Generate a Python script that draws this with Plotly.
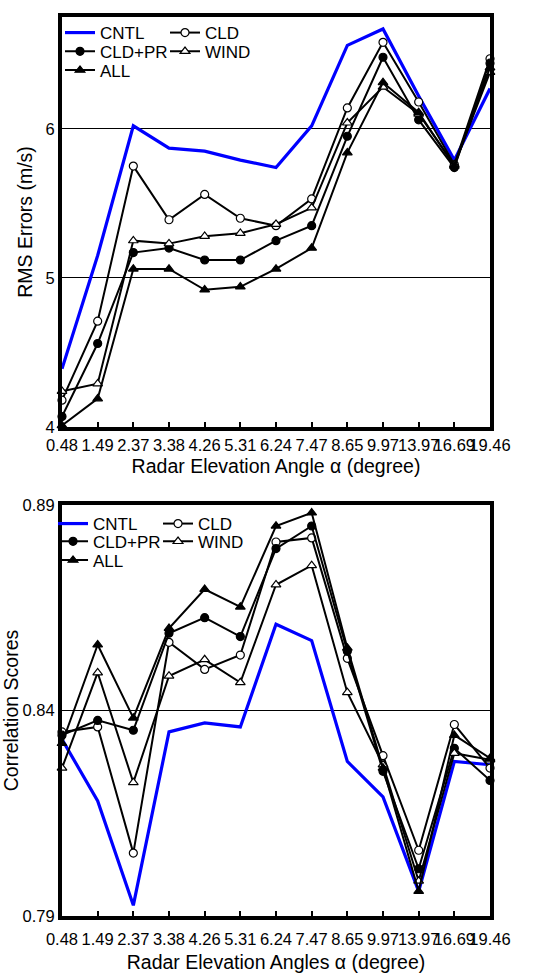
import plotly.graph_objects as go

angles = ["0.48", "1.49", "2.37", "3.38", "4.26", "5.31", "6.24", "7.47",
          "8.65", "9.97", "13.97", "16.69", "19.46"]
xi = list(range(len(angles)))

# RMS errors (m/s)
rms_cntl = [4.39, 5.15, 6.02, 5.87, 5.85, 5.79, 5.74, 6.02, 6.56, 6.67, 6.22, 5.79, 6.27]
rms_cld = [4.18, 4.71, 5.75, 5.39, 5.56, 5.40, 5.35, 5.53, 6.14, 6.58, 6.18, 5.76, 6.47]
rms_cldpr = [4.07, 4.56, 5.17, 5.20, 5.12, 5.12, 5.25, 5.35, 5.95, 6.48, 6.06, 5.74, 6.44]
rms_wind = [4.24, 4.29, 5.25, 5.23, 5.28, 5.30, 5.36, 5.47, 6.04, 6.28, 6.10, 5.76, 6.38]
rms_all = [4.01, 4.19, 5.06, 5.06, 4.92, 4.94, 5.06, 5.20, 5.84, 6.31, 6.11, 5.75, 6.41]

# Correlation scores
cor_cntl = [0.833, 0.818, 0.7926, 0.8348, 0.837, 0.836, 0.861, 0.857, 0.8276, 0.819, 0.796, 0.8276, 0.8268]
cor_cld = [0.8348, 0.836, 0.8053, 0.8566, 0.850, 0.8535, 0.881, 0.882, 0.8527, 0.829, 0.806, 0.8366, 0.826]
cor_cldpr = [0.834, 0.8376, 0.8352, 0.8588, 0.8626, 0.858, 0.8794, 0.8849, 0.8544, 0.8252, 0.8015, 0.8308, 0.823]
cor_wind = [0.826, 0.8492, 0.8225, 0.8484, 0.8524, 0.8468, 0.8706, 0.8753, 0.8444, 0.8268, 0.7985, 0.8296, 0.828]
cor_all = [0.832, 0.856, 0.8382, 0.860, 0.8695, 0.8652, 0.8849, 0.8881, 0.8552, 0.826, 0.796, 0.834, 0.8284]

FONT = "Liberation Sans, Arial, sans-serif"
BLUE = "#0000FF"

fig = go.Figure()

series = [
    ("CNTL", None, None),
    ("CLD", "circle", "white"),
    ("CLD+PR", "circle", "black"),
    ("WIND", "triangle-up", "white"),
    ("ALL", "triangle-up", "black"),
]
# legend row per series (two entries per row, like the reference)
row_of = {"CNTL": 0, "CLD": 0, "CLD+PR": 1, "WIND": 1, "ALL": 2}


def add_panel(data, xa, ya, legs):
    for (name, sym, fill), vals in zip(series, data):
        legend = legs[row_of[name]]
        if sym is None:
            fig.add_trace(go.Scatter(
                x=xi, y=vals, name=name, mode="lines",
                line=dict(color=BLUE, width=3.2), xaxis=xa, yaxis=ya,
                legend=legend, cliponaxis=False))
        else:
            fig.add_trace(go.Scatter(
                x=xi, y=vals, name=name, mode="lines+markers",
                line=dict(color="black", width=2),
                marker=dict(symbol=sym, size=8.5 if "triangle" in sym else 8,
                            color=fill, line=dict(color="black", width=1.2)),
                xaxis=xa, yaxis=ya, legend=legend, cliponaxis=False))


add_panel([rms_cntl, rms_cld, rms_cldpr, rms_wind, rms_all], "x", "y",
          ["legend", "legend2", "legend3"])
add_panel([cor_cntl, cor_cld, cor_cldpr, cor_wind, cor_all], "x2", "y2",
          ["legend4", "legend5", "legend6"])

W, H = 551, 979
ml, mr, mt, mb = 61, 61, 8, 61
ph = H - mt - mb

top_dom = [(H - mb - 423) / ph, 1.0]
bot_dom = [0.0, (H - mb - 502) / ph]

axis_common = dict(
    showline=True, linewidth=4, linecolor="black", mirror=True,
    tickfont=dict(family=FONT, size=16.5, color="black"),
    zeroline=False,
)

xcommon = dict(axis_common,
               tickmode="array", tickvals=xi, ticktext=angles,
               range=[0, len(angles) - 1], ticks="inside", ticklen=5,
               tickwidth=2, tickcolor="black", showgrid=False, tickangle=0)

TFONT = dict(family=FONT, size=19.5, color="black")

fig.update_layout(
    width=W, height=H,
    margin=dict(l=ml, r=mr, t=mt, b=mb),
    paper_bgcolor="white", plot_bgcolor="white",
    font=dict(family=FONT, color="black"),
    xaxis=dict(xcommon, domain=[0, 1], anchor="y", ticklabelstandoff=0,
               title=dict(text="Radar Elevation Angle α (degree)",
                          font=TFONT, standoff=8)),
    yaxis=dict(axis_common, domain=top_dom, anchor="x", range=[4, 6.75],
               tickmode="array", tickvals=[4, 5, 6], ticktext=["4", "5", "6"],
               ticks="", showgrid=True, gridcolor="black", gridwidth=1,
               title=dict(text="RMS Errors (m/s)", font=TFONT, standoff=9)),
    xaxis2=dict(xcommon, domain=[0, 1], anchor="y2", ticklabelstandoff=5,
                title=dict(text="Radar Elevation Angles α (degree)",
                           font=TFONT, standoff=10)),
    yaxis2=dict(axis_common, domain=bot_dom, anchor="x2", range=[0.79, 0.89],
                tickmode="array", tickvals=[0.79, 0.84, 0.89],
                ticktext=["0.79", "0.84", "0.89"],
                ticks="", showgrid=True, gridcolor="black", gridwidth=1,
                title=dict(text="Correlation Scores", font=TFONT, standoff=1)),
    showlegend=True,
)

leg_common = dict(bgcolor="rgba(0,0,0,0)", borderwidth=0,
                  font=dict(family=FONT, size=17, color="black"),
                  xanchor="left", yanchor="top", orientation="h",
                  entrywidth=60, entrywidthmode="pixels",
                  tracegroupgap=0, itemwidth=30)


def px2paper_x(px):
    return (px - ml) / (W - ml - mr)


def px2paper_y(py):
    return 1 - (py - mt) / ph


fig.update_layout(
    legend=dict(leg_common, x=px2paper_x(59), y=px2paper_y(6)),
    legend2=dict(leg_common, x=px2paper_x(59), y=px2paper_y(25)),
    legend3=dict(leg_common, x=px2paper_x(59), y=px2paper_y(44)),
    legend4=dict(leg_common, x=px2paper_x(52), y=px2paper_y(503)),
    legend5=dict(leg_common, x=px2paper_x(52), y=px2paper_y(521)),
    legend6=dict(leg_common, x=px2paper_x(52), y=px2paper_y(540)),
)

fig.write_html("out.html")
